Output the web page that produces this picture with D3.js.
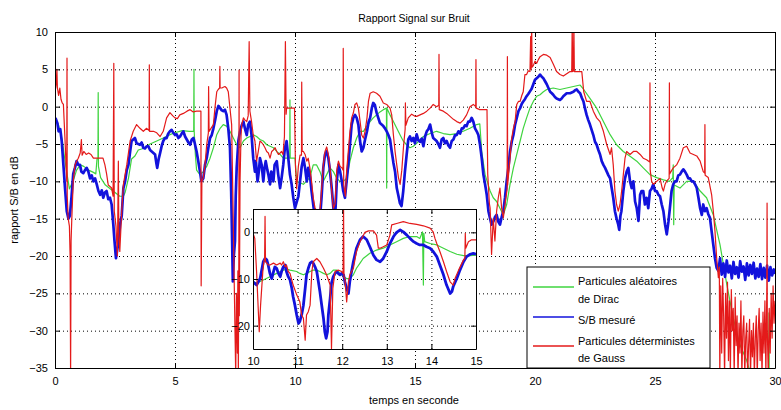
<!DOCTYPE html>
<html><head><meta charset="utf-8">
<script src="https://cdn.jsdelivr.net/npm/d3@7"></script>
<style>body{margin:0;background:#fff}text{font-family:"Liberation Sans",Arial,sans-serif;fill:#000}</style>
</head><body><svg id="c" width="781" height="410"></svg>
<script>
const chartTitle="Rapport Signal sur Bruit";
const xLabel="temps en seconde";
const yLabel="rapport S/B en dB";
const xTicks=[0,5,10,15,20,25,30];
const yTicks=[10,5,0,-5,-10,-15,-20,-25,-30,-35];
const insetXTicks=[10,11,12,13,14,15];
const insetYTicks=[0,-10,-20];
const legendLabels=[["Particules aléatoires","de Dirac"],["S/B mesuré"],["Particules déterministes","de Gauss"]];
const seriesColors=["#3fd43f","#1212dc","#e41a1a"];

// main series [t (s), S/B (dB)]
const dirac=[[0,-1.5],[0.15,-2.5],[0.3,-4.5],[0.45,-8],[0.6,-11],[0.75,-10],[0.9,-8.5],[1.05,-7.8],[1.2,-8],[1.4,-8.5],[1.6,-8.8],[1.7,-9],[1.75,-7],[1.79,-7],[1.8,1.9],[1.81,-8],[1.9,-9.5],[2,-10],[2.1,-10.5],[2.3,-11],[2.5,-11.5],[2.7,-12],[2.85,-12],[2.92,-11.5],[3.06,-9.6],[3.19,-7],[3.33,-6.6],[3.47,-5.8],[3.68,-5.6],[3.96,-5],[4.24,-4.6],[4.51,-4.2],[4.79,-3.75],[5,-3.5],[5.3,-3.2],[5.6,-3.3],[5.78,-3.3],[5.79,5],[5.8,-3.3],[5.85,-6.5],[5.9,-8.5],[6.04,-9.1],[6.18,-8.7],[6.32,-8],[6.46,-6.9],[6.6,-5.5],[6.74,-3.75],[6.88,-2.9],[7.01,-2.4],[7.15,-2.6],[7.29,-3.3],[7.43,-4.2],[7.57,-5.1],[7.71,-5.5],[7.85,-4.6],[7.99,-4.2],[8.12,-4],[8.26,-3.75],[8.4,-4],[8.54,-4.4],[8.68,-4.6],[8.82,-5.1],[8.96,-5.3],[9.1,-5.5],[9.24,-6],[9.38,-6.4],[9.51,-6.9],[9.65,-6.9],[9.78,-6.9],[9.79,0.9],[9.8,-6.9],[10,-6.9],[10.07,-10],[10.35,-10.4],[10.62,-9.5],[10.76,-7.8],[10.9,-7.8],[11.04,-8.7],[11.18,-10],[11.32,-9.1],[11.46,-8.2],[11.6,-8.7],[11.74,-9.6],[11.88,-10],[12.01,-10],[12.15,-9.6],[12.29,-7.3],[12.43,-5.5],[12.57,-4.2],[12.71,-3.3],[12.85,-3.3],[12.99,-2.6],[13.13,-2],[13.26,-1.5],[13.4,-1.1],[13.54,-0.7],[13.68,-0.4],[13.81,-0.2],[13.82,-10.9],[13.83,-0.2],[13.96,-1.1],[14.1,-2],[14.24,-2.9],[14.38,-3.8],[14.51,-4.6],[14.65,-5.1],[14.79,-5.5],[14.93,-5.3],[15.07,-4.9],[15.35,-4],[15.63,-3.6],[15.9,-3.3],[16.18,-3.6],[16.46,-3.75],[16.74,-3.6],[17.01,-3.3],[17.29,-2.9],[17.57,-2.4],[17.7,-2.3],[17.78,-6],[17.92,-9.1],[18.13,-11.3],[18.26,-12.2],[18.4,-12.7],[18.54,-13.6],[18.68,-14.5],[18.82,-13.1],[18.96,-10.4],[19.1,-8.2],[19.24,-6.4],[19.38,-4.6],[19.51,-2.9],[19.65,-1.5],[19.79,-0.2],[19.93,0.7],[20.07,1.4],[20.21,1.6],[20.35,2],[20.49,2.3],[20.76,2.5],[21.04,2.3],[21.32,2.5],[21.6,2.7],[21.88,2.9],[22.03,2.3],[22.29,1.1],[22.57,-0.2],[22.85,-2],[23.13,-3.75],[23.4,-5.1],[23.68,-6],[23.96,-6.65],[24.24,-7.3],[24.51,-8.2],[24.79,-9.1],[25.07,-9.5],[25.35,-9.8],[25.6,-10],[25.74,-9.5],[25.76,-7.8],[25.78,-15.8],[25.8,-10.5],[26.04,-10.9],[26.32,-10],[26.6,-10],[26.88,-11.3],[27.15,-12.2],[27.43,-14.5],[27.71,-18.5],[27.99,-23.8],[28.26,-28.3],[28.54,-31.9],[28.82,-34],[28.96,-35.5],[29.3,-38],[29.74,-38],[29.75,-27.6],[29.76,-38],[30,-38]];

const mesure=[[0.02,-1.5],[0.1,-2.2],[0.15,-3.3],[0.22,-3],[0.28,-4.6],[0.35,-7.8],[0.42,-11],[0.49,-14],[0.56,-15],[0.62,-14.6],[0.69,-12],[0.76,-9],[0.83,-8.2],[0.9,-7.3],[0.97,-7.8],[1.04,-7.8],[1.1,-8.7],[1.18,-8.9],[1.25,-8.5],[1.32,-8.2],[1.39,-8.7],[1.46,-9.6],[1.53,-9.2],[1.6,-10],[1.67,-9.6],[1.74,-10.4],[1.81,-11.3],[1.88,-11.8],[1.95,-11.2],[2.01,-12.2],[2.08,-11.5],[2.15,-11.3],[2.22,-12.4],[2.29,-12.2],[2.36,-13.1],[2.43,-15.8],[2.48,-18],[2.54,-20.3],[2.6,-19],[2.64,-18.5],[2.71,-15.8],[2.78,-14.6],[2.85,-10.9],[2.92,-10],[2.99,-8.5],[3.06,-7.8],[3.13,-6],[3.19,-4.6],[3.26,-4.4],[3.33,-4.2],[3.4,-4.9],[3.47,-5],[3.54,-5.1],[3.61,-4.8],[3.68,-5.5],[3.75,-5.6],[3.82,-5.3],[3.89,-5.3],[3.96,-5.8],[4.03,-6],[4.1,-6.2],[4.17,-6.4],[4.22,-7.5],[4.26,-8.2],[4.32,-7],[4.38,-6.2],[4.45,-5.2],[4.51,-4.6],[4.58,-4.2],[4.65,-4.2],[4.72,-3.6],[4.79,-3.3],[4.86,-3.1],[4.93,-3.5],[5,-3.8],[5.07,-3.7],[5.14,-4.2],[5.21,-4],[5.28,-3.6],[5.35,-3.3],[5.42,-4],[5.49,-4.4],[5.56,-4.8],[5.63,-5.1],[5.7,-4.4],[5.77,-4.2],[5.83,-5],[5.9,-6],[5.97,-7.3],[6.04,-8.7],[6.1,-10],[6.18,-9.6],[6.25,-7.8],[6.32,-6.9],[6.39,-5.5],[6.46,-4.2],[6.53,-3.8],[6.6,-2.9],[6.67,-1.8],[6.74,-0.6],[6.81,0.1],[6.88,-0.2],[6.95,-0.5],[7.01,-0.6],[7.08,-0.4],[7.15,-1.1],[7.22,-2.9],[7.29,-5.5],[7.34,-11.3],[7.38,-18],[7.41,-23.4],[7.45,-20],[7.5,-18],[7.53,-12],[7.57,-8.2],[7.64,-4.6],[7.71,-3.3],[7.78,-2.5],[7.85,-2],[7.92,-3],[7.99,-3.8],[8.05,-2.4],[8.12,-2],[8.19,-3.8],[8.26,-6.9],[8.33,-8.7],[8.37,-7.3],[8.44,-10],[8.5,-8.5],[8.54,-6.9],[8.61,-7.8],[8.68,-10],[8.73,-8.2],[8.78,-7.3],[8.85,-8.5],[8.89,-9.1],[8.96,-10.4],[9.01,-8.7],[9.06,-9],[9.1,-10],[9.15,-7.8],[9.24,-7.3],[9.3,-9.1],[9.38,-10.9],[9.44,-9.6],[9.51,-7.8],[9.58,-5.5],[9.65,-4.6],[9.72,-6.9],[9.79,-9.1],[9.86,-10.4],[9.93,-12.2],[10,-13.6],[10.07,-12.8],[10.14,-12],[10.21,-10],[10.28,-8],[10.35,-6.9],[10.42,-8.2],[10.49,-10],[10.55,-8.2],[10.62,-9.1],[10.69,-11.3],[10.76,-13.1],[10.83,-15],[10.9,-17],[10.97,-17],[11.04,-15],[11.11,-12],[11.18,-8.2],[11.25,-6.4],[11.32,-6],[11.39,-6.9],[11.46,-8.7],[11.53,-10.9],[11.6,-13.6],[11.67,-15],[11.74,-10],[11.81,-7.8],[11.88,-8.7],[11.95,-10],[12.01,-11.3],[12.08,-12.2],[12.15,-10],[12.22,-7.8],[12.29,-5.1],[12.36,-2.4],[12.43,-1.5],[12.5,-1.1],[12.57,-1.5],[12.64,-2.4],[12.71,-4.6],[12.78,-6],[12.85,-5.5],[12.92,-4.4],[13,-3.3],[13.07,-2],[13.13,-1.5],[13.2,-0.2],[13.26,0.5],[13.33,0.2],[13.4,-0.8],[13.47,-1.5],[13.54,-2.2],[13.61,-2.4],[13.68,-2.6],[13.75,-2.9],[13.82,-3.3],[13.89,-3.8],[13.96,-4.4],[14.03,-6],[14.1,-7.5],[14.17,-8.7],[14.24,-10.9],[14.3,-11.8],[14.37,-12.9],[14.44,-13.3],[14.51,-11.3],[14.58,-8.7],[14.65,-6.5],[14.72,-4.4],[14.79,-4],[14.86,-4.6],[14.93,-4.2],[15,-4.9],[15.07,-3.7],[15.14,-4.5],[15.21,-4.7],[15.28,-4.3],[15.35,-5.3],[15.42,-4],[15.49,-3.3],[15.56,-3],[15.63,-2.4],[15.7,-3.5],[15.76,-4.2],[15.83,-4.4],[15.9,-4.6],[15.97,-5],[16.04,-5.5],[16.11,-4.4],[16.18,-4.2],[16.25,-4.9],[16.32,-4.6],[16.39,-5.2],[16.46,-5.5],[16.53,-4.6],[16.6,-4.4],[16.67,-3.8],[16.74,-3.8],[16.81,-3.3],[16.88,-3.6],[16.95,-2.9],[17.01,-2.9],[17.08,-2.5],[17.15,-2.6],[17.22,-2],[17.29,-2],[17.36,-1.5],[17.43,-2],[17.5,-2.9],[17.57,-3.3],[17.64,-3.8],[17.71,-5.1],[17.78,-6.9],[17.85,-9.1],[17.92,-10.4],[17.99,-11.8],[18.06,-14],[18.13,-15],[18.19,-15.8],[18.26,-15.4],[18.33,-14.8],[18.4,-14.5],[18.47,-15.4],[18.54,-15.8],[18.61,-14.8],[18.68,-14],[18.75,-12.2],[18.82,-10],[18.89,-8.2],[18.96,-6],[19.03,-4.7],[19.1,-3.8],[19.17,-2.4],[19.24,-1.5],[19.31,-0.6],[19.38,-0.2],[19.45,0.4],[19.51,0.7],[19.58,1],[19.65,1.4],[19.72,1.7],[19.79,2.05],[19.86,2.4],[19.93,3],[20,3.6],[20.07,3.8],[20.14,4],[20.21,4.3],[20.28,4],[20.35,3.8],[20.42,3.4],[20.49,3],[20.56,2.5],[20.63,2],[20.7,1.8],[20.76,1.6],[20.83,1.3],[20.9,1.1],[20.97,1],[21.04,0.9],[21.11,1.1],[21.18,1.4],[21.25,1.6],[21.32,1.8],[21.39,1.8],[21.46,1.8],[21.53,1.9],[21.6,2],[21.67,2.2],[21.74,2.3],[21.81,2],[21.88,1.8],[21.95,1.2],[22.02,0.7],[22.08,-0.2],[22.15,-1.1],[22.22,-1.8],[22.29,-2.4],[22.36,-3.1],[22.43,-3.8],[22.5,-4.7],[22.57,-5.1],[22.64,-5.8],[22.71,-6.4],[22.78,-7.3],[22.85,-7.8],[22.92,-8.2],[22.99,-8.7],[23.06,-9.2],[23.13,-9.6],[23.2,-11],[23.26,-12.2],[23.33,-14],[23.4,-15],[23.47,-15.8],[23.51,-16.5],[23.56,-14.6],[23.6,-14],[23.68,-11.3],[23.75,-9.6],[23.82,-8.7],[23.89,-8.2],[23.96,-10],[24.03,-10.9],[24.1,-10],[24.17,-12.7],[24.24,-13.6],[24.31,-15.3],[24.38,-11.8],[24.44,-11.3],[24.51,-11.3],[24.58,-13.1],[24.65,-12.2],[24.72,-13.6],[24.79,-11.3],[24.86,-11],[24.93,-10.4],[25,-11.3],[25.07,-11.3],[25.14,-11.8],[25.21,-12],[25.28,-13.1],[25.35,-14],[25.42,-15.8],[25.49,-17.1],[25.56,-15.4],[25.62,-13.6],[25.69,-11.3],[25.76,-10.4],[25.83,-10],[25.9,-10],[25.97,-9.2],[26.04,-9.1],[26.11,-8.7],[26.18,-8.4],[26.25,-8.7],[26.32,-9.1],[26.39,-9.6],[26.46,-9.6],[26.53,-10],[26.6,-10],[26.67,-10.4],[26.74,-10.9],[26.81,-12.2],[26.88,-13.6],[26.95,-14.5],[27.01,-13.1],[27.08,-14],[27.15,-13.6],[27.22,-14.4],[27.29,-14.9],[27.36,-16.7],[27.43,-18.5],[27.5,-20.3],[27.57,-21.6],[27.64,-22],[27.71,-20.3],[27.78,-22.5],[27.85,-21],[27.92,-22.8],[27.99,-20.6],[28.06,-22.2],[28.13,-21.3],[28.2,-23],[28.27,-20.8],[28.34,-22.4],[28.41,-21.5],[28.48,-22.9],[28.55,-20.7],[28.62,-22.1],[28.69,-21.4],[28.76,-23.2],[28.83,-21],[28.9,-22.6],[28.97,-21.2],[29.04,-22.4],[29.11,-20.9],[29.18,-23],[29.25,-21.7],[29.32,-22.8],[29.39,-21.1],[29.46,-23.1],[29.53,-21.6],[29.6,-22.9],[29.67,-21.3],[29.74,-23.3],[29.81,-21.5],[29.88,-22.6],[29.95,-21.8],[30,-22.4]];

const gauss=[[0,2],[0.05,3],[0.08,5],[0.1,2.5],[0.15,1.5],[0.2,2.5],[0.25,1],[0.3,0.5],[0.35,0.3],[0.42,-4.6],[0.45,-7],[0.49,-10],[0.5,6.5],[0.51,-12],[0.55,-15],[0.6,-16],[0.63,-20],[0.65,-36],[0.67,-18],[0.7,-15],[0.76,-10],[0.83,-7.8],[0.9,-7.3],[0.97,-6.9],[1.05,-6.2],[1.1,-4.4],[1.13,-6.5],[1.2,-6],[1.3,-6.4],[1.4,-6.2],[1.5,-6.4],[1.6,-6.9],[1.7,-6.9],[1.8,-6.9],[2,-6.9],[2.08,-7.8],[2.15,-9],[2.22,-10.5],[2.36,-10.9],[2.42,-12],[2.45,5.8],[2.47,-14],[2.54,-16],[2.6,-20],[2.64,-7.3],[2.66,-17],[2.7,-19.4],[2.78,-14],[2.85,-10.4],[2.99,-7.8],[3.13,-4.6],[3.26,-3.3],[3.4,-2.4],[3.54,-2.9],[3.68,-3.3],[3.82,-2.9],[3.92,-3.2],[3.93,5.6],[3.94,-3.3],[4.1,-3.3],[4.24,-3.5],[4.38,-4],[4.51,-3.3],[4.65,-1.5],[4.79,-0.8],[4.9,-1.2],[5,-1.5],[5.1,-1.6],[5.2,-1.1],[5.35,-0.9],[5.5,-0.6],[5.63,-0.4],[5.76,-0.7],[5.9,-0.6],[6.08,-0.6],[6.09,-24],[6.12,-10],[6.18,-9.5],[6.25,-7.8],[6.32,-5.1],[6.39,-3.5],[6.4,2.7],[6.42,-3.3],[6.5,-2.9],[6.6,-2.4],[6.67,0],[6.74,2],[6.8,2.3],[6.86,2.5],[6.87,5.4],[6.88,2.5],[6.95,2.5],[7.01,2.6],[7.08,2.7],[7.15,2.5],[7.22,2],[7.29,-0.2],[7.36,-2.4],[7.4,-10],[7.45,-20],[7.5,-30],[7.53,-36],[7.56,-25],[7.6,-33],[7.62,-22],[7.64,-36],[7.66,-20],[7.67,4.9],[7.68,-28],[7.71,-10],[7.75,-4],[7.78,-2.4],[7.85,-1.5],[7.92,-1.8],[7.99,-2],[8.05,-1.2],[8.09,8.7],[8.12,-0.6],[8.19,-2],[8.26,-3.8],[8.33,-4.6],[8.4,-7.3],[8.47,-6],[8.54,-4.6],[8.61,-4.8],[8.68,-5.1],[8.75,-5.5],[8.82,-6],[8.89,-6.2],[8.96,-6.9],[9.03,-6],[9.1,-5.8],[9.17,-5.5],[9.24,-6],[9.31,-6.4],[9.38,-6.2],[9.44,-6],[9.5,-6.4],[9.56,-4],[9.6,8.7],[9.63,-1],[9.65,-0.2],[9.98,-0.2],[10.02,-8],[10.07,-11],[10.14,-8],[10.21,-6.5],[10.27,-6.5],[10.28,3.3],[10.3,-6],[10.35,-6],[10.42,-6.4],[10.49,-7.3],[10.55,-6.9],[10.62,-8.2],[10.69,-10],[10.76,-12.2],[10.83,-13.5],[10.9,-14],[11.04,-14],[11.11,-11],[11.18,-7.8],[11.25,-6],[11.32,-5.4],[11.39,-6.4],[11.46,-8.2],[11.53,-11.3],[11.6,-13.6],[11.67,-13],[11.74,-8.5],[11.81,-7.3],[11.88,-8],[11.96,-8.2],[12,-8.5],[12.01,7.8],[12.03,-10.5],[12.1,-12],[12.15,-8.7],[12.22,-6],[12.29,-3.3],[12.36,-1.5],[12.43,-0.85],[12.5,0.3],[12.57,0.5],[12.64,-0.2],[12.71,-1.9],[12.78,-3.8],[12.85,-4.2],[12.92,-3.3],[13,-1.5],[13.06,0.7],[13.13,1.8],[13.26,2],[13.4,1.8],[13.54,1.4],[13.68,0.5],[13.82,0.3],[13.96,-0.2],[14.03,-1.1],[14.1,-3.8],[14.17,-6],[14.24,-7.8],[14.31,-9.5],[14.38,-10.4],[14.45,-8.5],[14.52,-5.4],[14.59,-3],[14.6,0.5],[14.62,-2.5],[14.72,-1.5],[14.86,-1],[15,-1.3],[15.07,-1.3],[15.21,-1.1],[15.35,-0.9],[15.49,-0.6],[15.63,-0.2],[15.76,0.3],[15.9,0],[15.99,0.2],[16,7],[16.01,-0.4],[16.18,-0.6],[16.32,-0.9],[16.46,-1.3],[16.6,-1.7],[16.74,-2],[16.88,-2.2],[17.01,-1.8],[17.15,-1.1],[17.29,0],[17.43,0.3],[17.53,0],[17.54,6.3],[17.55,-0.2],[17.7,-0.4],[18,-0.4],[18.03,-9],[18.1,-13],[18.13,-13.6],[18.19,-19.8],[18.26,-15],[18.33,-18],[18.4,-14],[18.47,-12.2],[18.54,-10.9],[18.61,-13.6],[18.68,-14.9],[18.75,-13.1],[18.84,-11],[18.85,6.7],[18.86,-10.5],[18.96,-6.9],[19.03,-4.2],[19.1,-2.9],[19.17,-2],[19.24,0.3],[19.31,0.7],[19.38,0.7],[19.45,1.5],[19.51,2],[19.58,4.3],[19.65,4.3],[19.72,4.8],[19.79,4.7],[19.82,9.4],[19.84,5],[19.86,11],[19.88,5.3],[19.93,5.5],[20,6.1],[20.07,5.8],[20.14,6.3],[20.21,6.7],[20.35,7],[20.49,6.9],[20.63,6.6],[20.76,5.7],[20.9,4.7],[21.04,4.3],[21.18,4.1],[21.32,4.4],[21.46,4.7],[21.53,4.7],[21.55,11],[21.57,4.7],[21.6,4.8],[21.62,11],[21.64,4.7],[21.95,4.7],[22.03,2],[22.15,0.7],[22.29,0.7],[22.43,-0.6],[22.57,-1.5],[22.71,-2],[22.85,-3.3],[22.99,-5.1],[23.13,-6.4],[23.19,-5.5],[23.26,-7.8],[23.33,-11.3],[23.4,-13.1],[23.47,-14],[23.54,-13.1],[23.61,-11.3],[23.68,-9.1],[23.75,-6.9],[23.82,-6],[23.96,-6.4],[24.1,-6],[24.24,-6],[24.38,-6.4],[24.51,-6.9],[24.65,-7.1],[24.78,-7.4],[24.79,3.2],[24.8,-8.5],[24.86,-10],[24.93,-10.4],[25.07,-10],[25.21,-9.6],[25.3,-10.9],[25.35,-11.3],[25.42,-10.4],[25.5,-9.9],[25.59,-9.6],[25.6,3.2],[25.61,-9],[25.76,-8.2],[25.9,-7.8],[26.04,-6.9],[26.18,-5.5],[26.32,-5.3],[26.46,-6.2],[26.6,-6.4],[26.74,-6.6],[26.88,-7.3],[27.01,-8.7],[27.07,-8.9],[27.08,-2.4],[27.09,-9.2],[27.22,-9.5],[27.36,-11.8],[27.43,-14],[27.5,-16.7],[27.57,-20.3],[27.64,-22.9],[27.68,-21.5],[27.7,-36],[27.74,-24],[27.78,-33],[27.82,-23],[27.86,-28],[27.9,-36],[27.94,-25],[27.98,-31],[28.02,-23.5],[28.06,-34],[28.1,-26],[28.14,-36],[28.18,-24.5],[28.22,-30],[28.26,-27],[28.3,-36],[28.34,-25.5],[28.38,-32],[28.42,-28],[28.46,-36],[28.5,-29],[28.54,-33],[28.58,-26],[28.62,-36],[28.66,-30],[28.7,-28],[28.74,-36],[28.78,-31],[28.82,-29],[28.86,-36],[28.9,-32],[28.94,-28.5],[28.98,-36],[29.02,-30],[29.06,-33.5],[29.1,-29],[29.14,-36],[29.18,-31],[29.22,-28],[29.26,-36],[29.3,-30],[29.34,-27],[29.38,-34],[29.42,-29],[29.46,-36],[29.5,-27.5],[29.54,-33],[29.58,-26],[29.62,-36],[29.66,-24],[29.67,-12.9],[29.68,-30],[29.72,-36],[29.76,-27],[29.8,-33],[29.84,-25],[29.88,-31],[29.92,-24],[29.96,-29],[30,-26]];

// inset series (zoom 10 s - 15 s)
const insetDirac=[[10,-10.6],[10.08,-10.9],[10.23,-10.2],[10.38,-9.5],[10.53,-8.8],[10.68,-8.1],[10.75,-7.9],[10.83,-8.1],[10.98,-8.4],[11.05,-8.8],[11.13,-9.1],[11.2,-8.8],[11.28,-8.4],[11.35,-8.1],[11.43,-8.1],[11.5,-8.4],[11.58,-8.8],[11.65,-9.1],[11.73,-8.8],[11.8,-8.1],[11.88,-8.1],[11.95,-8.8],[12.03,-9.5],[12.1,-9.9],[12.17,-9.9],[12.25,-9.1],[12.32,-7.7],[12.4,-6.6],[12.47,-5.6],[12.62,-4.5],[12.77,-3.8],[12.92,-3.4],[13.07,-2.7],[13.22,-2],[13.37,-1.3],[13.52,-0.9],[13.67,-0.9],[13.74,-1.3],[13.8,0.1],[13.82,-11.3],[13.83,-0.2],[13.85,-2],[13.97,-2.4],[14.12,-2.7],[14.27,-3.4],[14.42,-4.1],[14.57,-4.7],[14.72,-5],[14.87,-5],[15,-4.9]];
const insetMesure=[[10,-10.6],[10.08,-11.3],[10.16,-9.9],[10.23,-6.3],[10.27,-5.6],[10.31,-5.9],[10.34,-7],[10.38,-8.8],[10.42,-9.9],[10.46,-8.4],[10.49,-7.4],[10.53,-7.7],[10.57,-8.8],[10.61,-9.5],[10.64,-8.4],[10.68,-7.4],[10.72,-7],[10.75,-8.4],[10.79,-9.5],[10.83,-10.2],[10.87,-12],[10.9,-13.8],[10.94,-15.6],[10.98,-17.7],[11.02,-19.5],[11.05,-19.1],[11.09,-17.7],[11.13,-15.6],[11.17,-12],[11.2,-9.1],[11.24,-7.7],[11.28,-6.6],[11.32,-6.3],[11.35,-6.6],[11.39,-7.4],[11.43,-8.4],[11.46,-10.2],[11.5,-12.7],[11.54,-15.6],[11.58,-18.4],[11.61,-21.3],[11.64,-22.7],[11.67,-21.3],[11.69,-17.7],[11.73,-14.1],[11.76,-10.9],[11.8,-9.5],[11.84,-8.8],[11.88,-8.4],[11.91,-8.8],[11.95,-9.1],[11.99,-8.8],[12.03,-9.1],[12.06,-10.6],[12.1,-12],[12.14,-13.1],[12.17,-10.6],[12.21,-8.4],[12.25,-6.3],[12.32,-3.4],[12.4,-1.6],[12.47,-0.9],[12.55,-1.6],[12.62,-3.1],[12.7,-4.9],[12.77,-5.9],[12.85,-6.3],[12.92,-5.6],[13,-4.1],[13.07,-2.4],[13.15,-0.9],[13.22,0],[13.3,0.5],[13.37,0.1],[13.45,-0.6],[13.52,-1.3],[13.6,-2],[13.67,-2.4],[13.74,-2.7],[13.82,-2.7],[13.89,-3.1],[13.97,-3.4],[14.04,-4.1],[14.12,-5.2],[14.19,-7],[14.27,-9.1],[14.34,-11.3],[14.42,-13.1],[14.46,-12.7],[14.49,-11.6],[14.57,-9.9],[14.64,-8.1],[14.72,-6.3],[14.79,-5.2],[14.87,-4.7],[14.94,-4.5],[15,-4.7]];
const insetGauss=[[10,-0.2],[10.04,-1.3],[10.08,-8.4],[10.12,-17],[10.14,-21.3],[10.17,-15.6],[10.22,-8.4],[10.25,-5.9],[10.26,-5.9],[10.27,3.4],[10.28,-6.3],[10.31,-6.6],[10.34,-7],[10.38,-7],[10.46,-6.6],[10.53,-7],[10.61,-6.6],[10.64,-7],[10.68,-6.3],[10.72,-7.4],[10.75,-7],[10.79,-8.4],[10.83,-8.8],[10.9,-11.3],[10.98,-13.4],[11.05,-14.9],[11.09,-17.7],[11.13,-18.4],[11.17,-23.1],[11.2,-17.7],[11.24,-17],[11.28,-15.6],[11.32,-8.4],[11.35,-6.3],[11.43,-5.6],[11.5,-6.3],[11.58,-7.7],[11.65,-9.1],[11.73,-11.3],[11.76,-24.9],[11.79,-12],[11.84,-8.4],[11.91,-8.1],[11.99,-8.4],[12.02,-8.8],[12.03,5.5],[12.04,-9.6],[12.06,-9.9],[12.1,-14.9],[12.14,-10.6],[12.17,-9.1],[12.25,-7.7],[12.32,-4.1],[12.4,-2],[12.51,0],[12.59,0.3],[12.7,0.3],[12.77,-0.6],[12.81,-3.4],[12.85,-3.4],[12.92,-3.1],[13,-2.7],[13.07,-0.6],[13.11,1.6],[13.15,1.7],[13.22,1.9],[13.37,2.3],[13.52,1.9],[13.67,1.7],[13.82,1.4],[13.97,0.9],[14.04,0.1],[14.08,-1.3],[14.12,-2.4],[14.19,-4.1],[14.27,-6.3],[14.34,-8.4],[14.42,-10.6],[14.49,-11.3],[14.53,-9.9],[14.61,-8.1],[14.72,-5.9],[14.75,-5.6],[14.76,-0.2],[14.77,-3.4],[14.83,-2],[14.9,-1.6],[15,-1.6]];

const svg=d3.select("#c");
const M={l:55,r:775,t:32,b:368};
const x=d3.scaleLinear().domain([0,30]).range([M.l,M.r]);
const y=d3.scaleLinear().domain([-35,10]).range([M.b,M.t]);
const I={l:253,r:476,t:209,b:349};
const xi=d3.scaleLinear().domain([10,15]).range([I.l,I.r]);
const yi=d3.scaleLinear().domain([-25,5]).range([I.b,I.t]);
const fmt=d3.format("d");

const defs=svg.append("defs");
defs.append("clipPath").attr("id","cm").append("rect").attr("x",M.l).attr("y",M.t).attr("width",M.r-M.l).attr("height",M.b-M.t);
defs.append("clipPath").attr("id","ci").append("rect").attr("x",I.l).attr("y",I.t).attr("width",I.r-I.l).attr("height",I.b-I.t);

function grid(g,xs,ys,xt,yt,box){
  g.append("g").attr("transform",`translate(0,${box.b})`)
   .call(d3.axisBottom(xs).tickValues(xt).tickSize(-(box.b-box.t)).tickFormat(""))
   .call(a=>{a.select(".domain").remove();a.selectAll("line").attr("stroke","#000").attr("stroke-width",1).attr("stroke-dasharray","1,3");});
  g.append("g").attr("transform",`translate(${box.l},0)`)
   .call(d3.axisLeft(ys).tickValues(yt).tickSize(-(box.r-box.l)).tickFormat(""))
   .call(a=>{a.select(".domain").remove();a.selectAll("line").attr("stroke","#000").attr("stroke-width",1).attr("stroke-dasharray","1,3");});
}
function frame(g,xs,ys,xt,yt,box,fs,padX,padY){
  const st=a=>{a.select(".domain").attr("stroke","#000").attr("stroke-width",1);a.selectAll("line").attr("stroke","#000");a.selectAll("text").attr("font-size",fs).attr("font-family","Liberation Sans, Arial, sans-serif").attr("fill","#000");};
  g.append("g").attr("transform",`translate(0,${box.b})`).call(d3.axisBottom(xs).tickValues(xt).tickFormat(fmt).tickSizeInner(-5).tickSizeOuter(0).tickPadding(padX)).call(st);
  g.append("g").attr("transform",`translate(0,${box.t})`).call(d3.axisTop(xs).tickValues(xt).tickSizeInner(-5).tickSizeOuter(0).tickFormat("")).call(st);
  g.append("g").attr("transform",`translate(${box.l},0)`).call(d3.axisLeft(ys).tickValues(yt).tickFormat(fmt).tickSizeInner(-5).tickSizeOuter(0).tickPadding(padY)).call(st);
  g.append("g").attr("transform",`translate(${box.r},0)`).call(d3.axisRight(ys).tickValues(yt).tickSizeInner(-5).tickSizeOuter(0).tickFormat("")).call(st);
}
function draw(g,xs,ys,clip,data,widths){
  const ln=d3.line().x(d=>xs(d[0])).y(d=>ys(d[1]));
  const gg=g.append("g").attr("clip-path",`url(#${clip})`);
  data.forEach((d,i)=>gg.append("path").attr("d",ln(d)).attr("fill","none").attr("stroke",seriesColors[i]).attr("stroke-width",widths[i]).attr("stroke-linejoin","round"));
}

// main
const gm=svg.append("g");
grid(gm,x,y,xTicks,yTicks,M);
draw(gm,x,y,"cm",[dirac,mesure,gauss],[1.2,2.7,1.2]);
frame(gm,x,y,xTicks,yTicks,M,"11px",9,7);

svg.append("text").attr("x",414).attr("y",22).attr("text-anchor","middle").attr("font-size","10.5px").text(chartTitle);
svg.append("text").attr("x",414).attr("y",404).attr("text-anchor","middle").attr("font-size","11px").text(xLabel);
svg.append("text").attr("transform","translate(18,200) rotate(-90)").attr("text-anchor","middle").attr("font-size","11px").text(yLabel);

// inset
const gi=svg.append("g");
gi.append("rect").attr("x",I.l).attr("y",I.t).attr("width",I.r-I.l).attr("height",I.b-I.t).attr("fill","#fff");
grid(gi,xi,yi,insetXTicks,insetYTicks,I);
draw(gi,xi,yi,"ci",[insetDirac,insetMesure,insetGauss],[1.2,2.8,1.2]);
frame(gi,xi,yi,insetXTicks,insetYTicks,I,"11px",8,3);

// legend
const L={l:527,t:267,r:710,b:368};
const gl=svg.append("g");
gl.append("rect").attr("x",L.l).attr("y",L.t).attr("width",L.r-L.l).attr("height",L.b-L.t).attr("fill","#fff").attr("stroke","#000").attr("stroke-width",1);
const lineY=[287,317,346];
const textY=[[285,303],[324],[345,362]];
legendLabels.forEach((lab,i)=>{
  gl.append("line").attr("x1",533).attr("x2",574).attr("y1",lineY[i]).attr("y2",lineY[i]).attr("stroke",seriesColors[i]).attr("stroke-width",i===1?1.6:1.3);
  lab.forEach((s,j)=>gl.append("text").attr("x",578).attr("y",textY[i][j]).attr("font-size","11px").text(s));
});
</script></body></html>
